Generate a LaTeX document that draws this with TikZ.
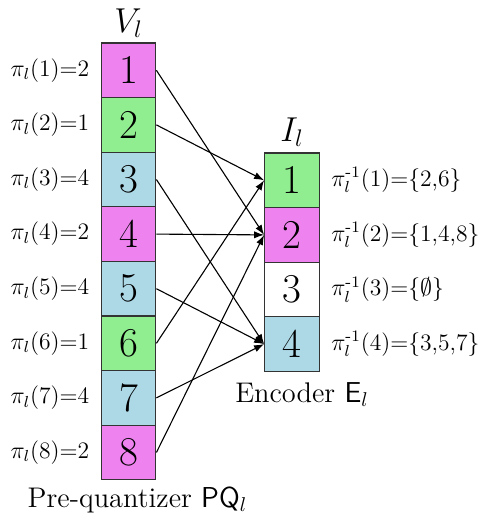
\documentclass[tikz,border=0pt]{standalone}
\usepackage{amsmath}
\usetikzlibrary{arrows.meta}
\definecolor{cviolet}{RGB}{238,130,238}
\definecolor{cgreen}{RGB}{144,238,144}
\definecolor{cblue}{RGB}{173,216,230}
\begin{document}
\begin{tikzpicture}[x=0.5pt,y=-0.5pt,
  cell/.style={draw=black!80,line width=0.6pt,minimum size=27.3pt,inner sep=0pt,font=\fontsize{20.5}{24}\selectfont},
  lab/.style={font=\fontsize{11.8}{13}\selectfont,inner sep=0pt},
  captext/.style={font=\fontsize{14.2}{16}\selectfont,inner sep=0pt,anchor=base},
  ttl/.style={font=\fontsize{18.5}{21}\selectfont,inner sep=0pt,anchor=base},
  link/.style={-{Latex[length=5pt,width=3.6pt]},line width=0.55pt}]
\useasboundingbox (0,0) rectangle (488,520);
% left column
\foreach \i/\c in {1/cviolet,2/cgreen,3/cblue,4/cviolet,5/cblue,6/cgreen,7/cblue,8/cviolet}{
  \node[cell,fill=\c] (v\i) at (128.5,{70.3+54.6*(\i-1)}) {\i};
}
% right column
\foreach \j/\c in {1/cgreen,2/cviolet,3/white,4/cblue}{
  \node[cell,fill=\c] (e\j) at (292,{180.3+54.6*(\j-1)}) {\j};
}
\node[ttl] (vt) at (128.5,32) {$V_l$};
\node[ttl] (it) at (292,141) {$I_l$};
% left labels
\foreach \i/\p in {1/2,2/1,3/4,4/2,5/4,6/1,7/4,8/2}{
  \node[lab,anchor=east] (pl\i) at ([xshift=-5.5pt]v\i.west) {$\pi_l$(\i)=\p};
}
% right labels
\node[lab,anchor=west] (pr1) at ([xshift=5.5pt]e1.east) {$\pi^{\text{-}1}_l$(1)=\{2,6\}};
\node[lab,anchor=west] (pr2) at ([xshift=5.5pt]e2.east) {$\pi^{\text{-}1}_l$(2)=\{1,4,8\}};
\node[lab,anchor=west] (pr3) at ([xshift=5.5pt]e3.east) {$\pi^{\text{-}1}_l$(3)=\{$\emptyset$\}};
\node[lab,anchor=west] (pr4) at ([xshift=5.5pt]e4.east) {$\pi^{\text{-}1}_l$(4)=\{3,5,7\}};
% captions
\node[captext] (pq) at (137.5,507) {Pre-quantizer $\mathsf{PQ}_l$};
\node[captext] (enc) at (302,402) {Encoder $\mathsf{E}_l$};
% links
\foreach \i/\p in {1/2,2/1,3/4,4/2,5/4,6/1,7/4,8/2}{
  \draw[link] (v\i.east) -- (e\p.west);
}
\end{tikzpicture}
\end{document}
